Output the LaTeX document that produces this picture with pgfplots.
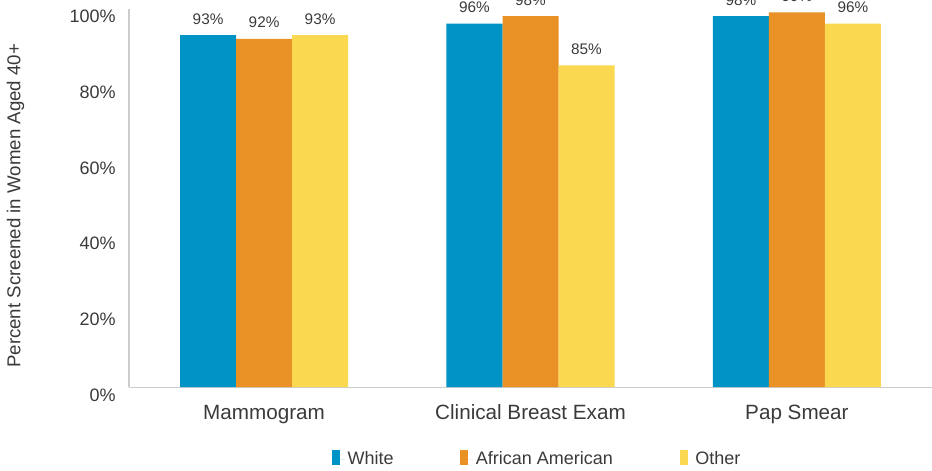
\documentclass[border=0pt]{standalone}
\usepackage{fontspec}
\setmainfont{Liberation Sans}
\usepackage{pgfplots}
\pgfplotsset{compat=1.18}

\definecolor{cWhite}{HTML}{0093C6}
\definecolor{cAA}{HTML}{E99125}
\definecolor{cOther}{HTML}{FAD84F}
\definecolor{txt}{HTML}{3A3A3A}

\begin{document}
\begin{tikzpicture}
\begin{axis}[
    scale only axis,
    width=602.25pt, height=283.9pt,
    ymin=0, ymax=100,
    xmin=-0.507, xmax=2.507,
    ybar=0pt, bar width=42pt,
    axis lines*=left,
    axis line style={draw=black!20, line width=0.8pt},
    major tick length=0pt,
    /pgf/number format/assume math mode=true,
    ytick={0,20,...,100},
    yticklabel={\pgfmathprintnumber{\tick}\%},
    xtick={0,1,2},
    xticklabels={Mammogram, Clinical Breast Exam, Pap Smear},
    tick label style={font=\fontsize{13.5}{16}\selectfont, color=txt},
    yticklabel style={anchor=east, inner sep=0pt, xshift=-9.75pt, yshift=-6pt},
    xticklabel style={font=\fontsize{15.5}{18}\selectfont, anchor=base, inner sep=0pt, yshift=-24pt},
    every axis y label/.style={at={(rel axis cs:0,0.5)}, xshift=-85pt, yshift=-6pt, rotate=90, anchor=center},
    ylabel={Percent Screened in Women Aged 40+},
    label style={font=\fontsize{14}{16}\selectfont, color=txt},
    nodes near coords={\pgfmathprintnumber{\pgfplotspointmeta}\%},
    every node near coord/.append style={font=\fontsize{11.5}{14}\selectfont, color=txt, anchor=base, inner sep=0pt, yshift=8.25pt},
    legend columns=3,
    legend style={at={(rel axis cs:0.5,0)}, anchor=center, xshift=5.25pt, yshift=-54pt,
        draw=none, fill=none, font=\fontsize{13.5}{16}\selectfont, text=txt,
        /tikz/every even column/.append style={column sep=48pt}},
    legend image code/.code={\fill[#1] (0pt,-4.5pt) rectangle (6pt,7pt);
        \path (0pt,0pt) -- (9.75pt,0pt);},
]
\addplot[fill=cWhite, draw=none] coordinates {(0,93) (1,96) (2,98)};
\addplot[fill=cAA, draw=none] coordinates {(0,92) (1,98) (2,99)};
\addplot[fill=cOther, draw=none] coordinates {(0,93) (1,85) (2,96)};
\legend{White, African American, Other}
\coordinate (bl) at (rel axis cs:0,0);
\coordinate (tr) at (rel axis cs:1,1);
\end{axis}
\pgfresetboundingbox
\path[use as bounding box] ([xshift=-96.75pt, yshift=-62.25pt]bl) rectangle ([yshift=6.4pt]tr);
\end{tikzpicture}
\end{document}
